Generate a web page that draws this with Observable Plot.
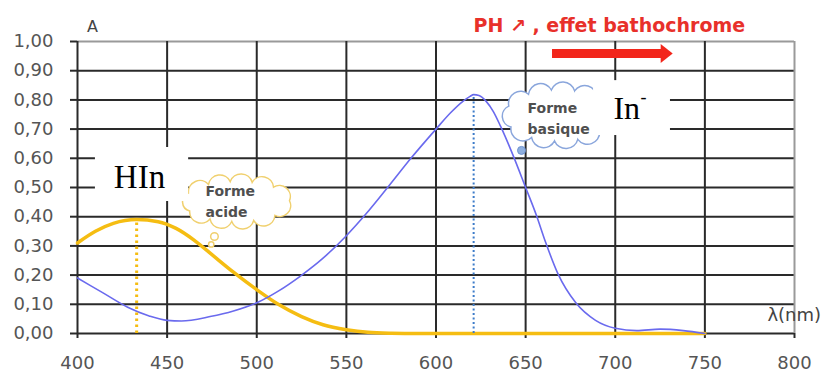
<!DOCTYPE html>
<html><head><meta charset="utf-8">
<script src="https://cdn.jsdelivr.net/npm/d3@7"></script>
<script src="https://cdn.jsdelivr.net/npm/@observablehq/plot@0.6"></script>
<style>body{margin:0;background:#fff}</style>
</head><body><div id="chart"></div>
<script>
// Basic form In- (blue)
const lambdaBasic = [400,414,428,440,450,458,474,487,500,512,524,537,550,561,573,586,600,608,615,619,621,624,628,632,636,643,650,656,661,668,678,689,700,712,725,738,750];
const absBasic    = [0.19,0.14,0.09,0.06,0.045,0.043,0.058,0.077,0.105,0.145,0.195,0.258,0.335,0.41,0.50,0.60,0.70,0.755,0.795,0.812,0.818,0.815,0.795,0.76,0.71,0.61,0.50,0.405,0.315,0.205,0.105,0.045,0.018,0.01,0.015,0.01,0.0];
// Acid form HIn (yellow)
const lambdaAcid = [400,410,420,433,445,455,465,475,487,500,512,525,537,550,562,575,590,650,700,750];
const absAcid    = [0.31,0.35,0.377,0.39,0.383,0.36,0.32,0.27,0.21,0.15,0.10,0.058,0.03,0.013,0.004,0.001,0,0,0,0];
const peakLambda = [433, 621];
const peakAbs = [0.39, 0.818];
const xTicks = [400,450,500,550,600,650,700,750,800];
const yTicks = [0,0.1,0.2,0.3,0.4,0.5,0.6,0.7,0.8,0.9,1];
const xLabel = "λ(nm)";
const yLabel = "A";
const title = "PH ↗ , effet bathochrome";
const cloudTexts = ["Forme", "acide", "Forme", "basique"];
const speciesTexts = ["HIn", "In", "-"];

const basic = lambdaBasic.map((l, i) => ({l, a: absBasic[i]}));
const acid = lambdaAcid.map((l, i) => ({l, a: absAcid[i]}));
const peaks = peakLambda.map((l, i) => ({l, a: peakAbs[i]}));
const fmt = d => d.toFixed(2).replace(".", ",");

function cloudSymbol(ratio, n, sweep) {
  return {
    draw(ctx, size) {
      const W = Math.sqrt(size / Math.PI), H = W * ratio;
      const k4 = Math.tan(sweep / 4);
      let h = W * 0.14, a, b;
      for (let k = 0; k < 8; k++) {
        a = W - h; b = H - h;
        const P = Math.PI * (3 * (a + b) - Math.sqrt((3 * a + b) * (a + 3 * b)));
        h = k4 * P / (2 * n);
      }
      const M = 720, pts = [], cum = [0];
      for (let i = 0; i <= M; i++) {
        const t = -Math.PI / 2 + 0.3 + 2 * Math.PI * i / M;
        pts.push([a * Math.cos(t), b * Math.sin(t)]);
        if (i) cum.push(cum[i - 1] + Math.hypot(pts[i][0] - pts[i - 1][0], pts[i][1] - pts[i - 1][1]));
      }
      const L = cum[M], nodes = [];
      let j = 0;
      for (let k = 0; k < n; k++) {
        const s = L * k / n;
        while (j < M - 1 && cum[j + 1] < s) j++;
        const f = (s - cum[j]) / (cum[j + 1] - cum[j]);
        nodes.push([pts[j][0] + f * (pts[j + 1][0] - pts[j][0]), pts[j][1] + f * (pts[j + 1][1] - pts[j][1])]);
      }
      ctx.moveTo(nodes[0][0], nodes[0][1]);
      for (let k = 0; k < n; k++) {
        const p = nodes[k], q = nodes[(k + 1) % n];
        const dx = q[0] - p[0], dy = q[1] - p[1];
        const c = Math.hypot(dx, dy);
        const mx = (p[0] + q[0]) / 2, my = (p[1] + q[1]) / 2;
        const R = (c / 2) / Math.sin(sweep / 2);
        const d = (c / 2) / Math.tan(sweep / 2);
        const nx = dy / c, ny = -dx / c; // outward normal
        const cx = mx - d * nx, cy = my - d * ny;
        const a0 = Math.atan2(p[1] - cy, p[0] - cx);
        ctx.arc(cx, cy, R, a0, a0 + sweep, false);
      }
      ctx.closePath();
    }
  };
}
const arrowHead = {draw(ctx) { ctx.moveTo(-6, -9.5); ctx.lineTo(6, 0); ctx.lineTo(-6, 9.5); ctx.closePath(); }};

const dark = "#2a2a2a", light = "#9a9a9a", tickGray = "#555";

const chart = Plot.plot({
  width: 829, height: 372,
  marginLeft: 77, marginRight: 35, marginTop: 41, marginBottom: 39,
  x: {domain: [400, 800]},
  y: {domain: [0, 1]},
  style: {fontFamily: "DejaVu Sans", background: "#fff"},
  marks: [
    Plot.ruleY(yTicks.filter(d => d < 1), {y: d => d, x1: 400, x2: 800, stroke: dark, strokeWidth: 2}),
    Plot.ruleY(yTicks.filter(d => d === 1), {y: d => d, x1: 400, x2: 800, stroke: light, strokeWidth: 2}),
    Plot.ruleX(xTicks.filter(d => d < 800), {x: d => d, y1: 0, y2: 1, stroke: dark, strokeWidth: 2}),
    Plot.ruleX(xTicks.filter(d => d === 800), {x: d => d, y1: 0, y2: 1, stroke: light, strokeWidth: 2}),
    Plot.axisY({ticks: yTicks, tickFormat: fmt, tickSize: 7, tickPadding: 17, fontSize: 18, fill: tickGray, stroke: dark, strokeWidth: 2, label: null}),
    Plot.axisX({ticks: xTicks, tickFormat: d => d, tickSize: 5, tickPadding: 18, fontSize: 18, fill: tickGray, stroke: dark, strokeWidth: 2, label: null}),
    Plot.line(acid, {x: "l", y: "a", curve: "monotone-x", stroke: "#f5bd12", strokeWidth: 3.5}),
    Plot.line(basic, {x: "l", y: "a", curve: "monotone-x", stroke: "#6a6aee", strokeWidth: 1.6}),
    Plot.ruleX(peaks.slice(0, 1), {x: "l", y1: 0, y2: "a", stroke: "#f5bd12", strokeWidth: 3, strokeDasharray: "2.5,3.5"}),
    Plot.ruleX(peaks.slice(1), {x: "l", y1: 0, y2: "a", stroke: "#3d7cc9", strokeWidth: 2, strokeDasharray: "2,2.5"}),
    // clouds
    Plot.dot([{l: 488.7, a: 0.452}], {x: "l", y: "a", r: 61, symbol: cloudSymbol(0.46, 11, 0.8 * Math.PI), fill: "#fff", stroke: "#f0d06e", strokeWidth: 1.5}),
    Plot.dot([{l: 476.4, a: 0.332, r: 5}, {l: 474.6, a: 0.305, r: 2.5}], {x: "l", y: "a", r: "r", fill: "#fff", stroke: "#f0d06e", strokeWidth: 1.5}),
    Plot.dot([{l: 668.5, a: 0.747}], {x: "l", y: "a", r: 62, symbol: cloudSymbol(0.55, 11, 0.8 * Math.PI), fill: "#fff", stroke: "#8aa6dc", strokeWidth: 1.5}),
    Plot.dot([{l: 647.7, a: 0.627}], {x: "l", y: "a", r: 4, fill: "#8fb0e0", stroke: "#6f93cf", strokeWidth: 1}),
    Plot.text([{l: 471.4, a: 0.486, t: cloudTexts[0]}, {l: 471.4, a: 0.414, t: cloudTexts[1]}, {l: 651.1, a: 0.771, t: cloudTexts[2]}, {l: 651.1, a: 0.699, t: cloudTexts[3]}],
      {x: "l", y: "a", text: "t", textAnchor: "start", fontSize: 14, fontWeight: "bold", fill: "#4f4f4f"}),
    // white label boxes
    Plot.rect([{x1: 410, x2: 462, y1: 0.452, y2: 0.637}, {x1: 687.9, x2: 730.8, y1: 0.678, y2: 0.866}], {x1: "x1", x2: "x2", y1: "y1", y2: "y2", fill: "#fff"}),
    Plot.text([{l: 434.6, a: 0.536, t: speciesTexts[0]}], {x: "l", y: "a", text: "t", fontFamily: "Liberation Serif", fontSize: 33, fill: "#000"}),
    Plot.text([{l: 699, a: 0.771, t: speciesTexts[1]}], {x: "l", y: "a", text: "t", textAnchor: "start", fontFamily: "Liberation Serif", fontSize: 32, fill: "#000"}),
    Plot.text([{l: 715.8, a: 0.808, t: speciesTexts[2]}], {x: "l", y: "a", text: "t", fontFamily: "Liberation Serif", fontSize: 18, fill: "#000"}),
    // axis labels
    Plot.text([yLabel], {x: 408.4, y: 1.051, text: d => d, fontSize: 16, fill: "#444"}),
    Plot.text([xLabel], {x: 784.9, y: 0.062, text: d => d, textAnchor: "start", fontSize: 18, fill: "#444"}),
    // red title + arrow
    Plot.text([title], {x: 620.9, y: 1.055, text: d => d, textAnchor: "start", fontSize: 19, fontWeight: "bold", fill: "#e8302a"}),
    Plot.ruleY([0.959], {y: d => d, x1: 665, x2: 726, stroke: "#f2261b", strokeWidth: 9}),
    Plot.dot([0.959], {x: 728.7, y: d => d, r: 9, symbol: arrowHead, fill: "#f2261b", stroke: "none"})
  ]
});
document.getElementById("chart").append(chart);
</script>
</body></html>
